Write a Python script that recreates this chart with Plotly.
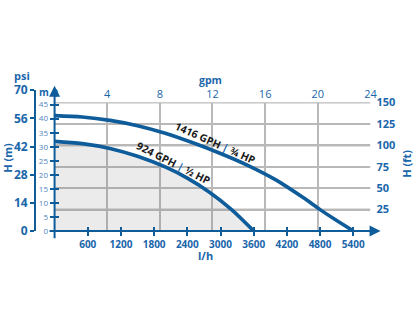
import numpy as np
import plotly.graph_objects as go

# Pump performance: flow (l/h) vs head (m)
flow_1416 = [0, 500, 1000, 1500, 2000, 2500, 3000, 3500, 4000, 4500, 4800, 5100, 5400]
head_1416 = [41.1, 40.6, 39.4, 37.5, 34.8, 31.4, 27.6, 23.3, 18.2, 11.8, 7.6, 3.7, 0]

flow_924 = [0, 500, 1000, 1500, 2000, 2400, 2800, 3200, 3600]
head_924 = [31.9, 31.1, 29.4, 26.6, 22.8, 18.8, 13.8, 7.6, 0]

label_1416 = "1416 GPH"
power_1416 = "¾ HP"
label_924 = "924 GPH"
power_924 = "½ HP"

# Axis ticks
lph_ticks = [600, 1200, 1800, 2400, 3000, 3600, 4200, 4800, 5400]
gpm_ticks = [4, 8, 12, 16, 20, 24]
m_ticks = [0, 5, 10, 15, 20, 25, 30, 35, 40, 45]
psi_ticks = [0, 14, 28, 42, 56, 70]
ft_ticks = [25, 50, 75, 100, 125, 150]

FT_TO_M = 0.3048
LPH_MAX = 5710
GPM_MAX = 24
FT_MAX = 150
M_MAX = FT_MAX * FT_TO_M
PSI_MAX = 70
SHADE_CAP_M = 100 * FT_TO_M  # shaded zone stops at the 100 ft line

W, H = 420, 330
BLUE = "#0f5c9b"
TXT = "#1a66ab"
GRID = "#b9b9b9"
FONT = "Open Sans"

# plot box in pixels
PX_L, PX_R, PX_B, PX_T = 55.5, 376.7, 234.0, 98.7
PSI_TOP = 85.7
PSI_X = 35.7
GPM_LABEL_Y = 96

xdom = [PX_L / W, PX_R / W]
ydom = [(H - PX_B) / H, (H - PX_T) / H]
psidom = [(H - PX_B) / H, (H - PSI_TOP) / H]

fig = go.Figure()

# horizontal grid at every ft tick, on the metre axis, drawn before the curves
grid_x, grid_y = [], []
for v in ft_ticks:
    grid_x += [0, LPH_MAX, None]
    grid_y += [v * FT_TO_M, v * FT_TO_M, None]
fig.add_trace(go.Scatter(x=grid_x, y=grid_y, mode="lines", line=dict(color=GRID, width=1.5),
                         hoverinfo="skip", showlegend=False, xaxis="x", yaxis="y4",
                         cliponaxis=False, connectgaps=False))

# curves live on the metre axis (y4), which overlays the feet axis (y)
shade = np.minimum(np.array(head_924, dtype=float), SHADE_CAP_M)
fig.add_trace(go.Scatter(x=flow_924, y=shade, mode="lines", line=dict(width=0, shape="spline", smoothing=0.8),
                         fill="tozeroy", fillcolor="rgba(120,120,120,0.15)", hoverinfo="skip",
                         showlegend=False, xaxis="x", yaxis="y4"))
for fl, hd in ((flow_1416, head_1416), (flow_924, head_924)):
    fig.add_trace(go.Scatter(x=fl, y=hd, mode="lines",
                             line=dict(color=BLUE, width=3.6, shape="spline", smoothing=0.8),
                             showlegend=False, xaxis="x", yaxis="y4", cliponaxis=False))

# transparent carriers so every secondary axis gets drawn
for xa, ya in (("x", "y"), ("x4", "y3"), ("x", "y5"), ("x2", "y"), ("x3", "y")):
    fig.add_trace(go.Scatter(x=flow_924, y=head_924, mode="lines", line=dict(width=0),
                             opacity=0, hoverinfo="skip", showlegend=False, xaxis=xa, yaxis=ya))

# same grid again as layout lines on the feet axis
for v in ft_ticks:
    fig.add_shape(type="line", xref="x", x0=0, x1=LPH_MAX, yref="y", y0=v, y1=v,
                  line=dict(color=GRID, width=1.5), layer="below")

bold = lambda s, c=TXT: dict(family=FONT, size=s, color=c, weight=700)

fig.update_layout(
    width=W, height=H, margin=dict(l=0, r=0, t=0, b=0),
    paper_bgcolor="white", plot_bgcolor="rgba(0,0,0,0)", showlegend=False,
    font=dict(family=FONT, color=TXT),
    xaxis=dict(domain=xdom, range=[0, LPH_MAX], tickvals=lph_ticks, ticks="outside", ticklen=4,
               tickwidth=2, tickcolor=BLUE, showgrid=False, zeroline=False, showline=False,
               tickfont=bold(10), anchor="y"),
    xaxis3=dict(overlaying="x", range=[0, LPH_MAX], tickvals=lph_ticks, ticks="inside", ticklen=4,
                tickwidth=2, tickcolor=BLUE, showticklabels=False, showgrid=False, zeroline=False,
                anchor="y"),
    xaxis2=dict(overlaying="x", side="top", anchor="free", position=(H - GPM_LABEL_Y) / H,
                range=[0, GPM_MAX], tickvals=gpm_ticks,
                ticks="", showgrid=True, gridcolor=GRID, gridwidth=1.5, zeroline=False,
                showline=False, tickfont=dict(family=FONT, size=11, color=TXT)),
    # hidden companion for the psi scale, kept clear of the main plot box
    xaxis4=dict(domain=[0, 0.03], anchor="y3", visible=False, range=[0, 1]),
    # feet axis: right-hand labels and grid
    yaxis=dict(domain=ydom, side="right", anchor="x", range=[0, FT_MAX], tickvals=ft_ticks,
               ticks="", showgrid=True, gridcolor=GRID, gridwidth=1.5, zeroline=False,
               showline=False, tickfont=bold(11), ticklabelstandoff=5),
    # metre axis: left labels with outward ticks
    yaxis4=dict(overlaying="y", side="left", anchor="x", range=[0, M_MAX], tickvals=m_ticks,
                ticks="outside", ticklen=4, tickwidth=2, tickcolor=BLUE, showgrid=False,
                zeroline=False, showline=False,
                tickfont=dict(family=FONT, size=8, color="#4f84bb")),
    yaxis5=dict(overlaying="y", side="left", anchor="x", range=[0, M_MAX], tickvals=m_ticks,
                ticks="inside", ticklen=4, tickwidth=2, tickcolor=BLUE, showticklabels=False,
                showgrid=False, zeroline=False),
    yaxis3=dict(domain=psidom, anchor="free", position=PSI_X / W, side="left", range=[0, PSI_MAX],
                tickvals=psi_ticks, ticks="outside", ticklen=4, tickwidth=2, tickcolor=BLUE,
                showline=True, linecolor=BLUE, linewidth=2, showgrid=False, zeroline=False,
                tickfont=bold(12)),
)

def ptext(txt, px, py, size=11, weight=700, angle=0, color=TXT):
    fig.add_annotation(text=txt, x=px / W, y=(H - py) / H, xref="paper", yref="paper",
                       showarrow=False, textangle=angle, xanchor="center", yanchor="middle",
                       font=dict(family=FONT, size=size, color=color, weight=weight))

ptext("psi", 22, 70)
ptext("H (m)", 8, 157, angle=-90)
ptext("m", 45, 88, size=10)
ptext("gpm", 214, 75, size=10.5)
ptext("l/h", 209, 260)
ptext("H (ft)", 413, 163, angle=-90)
# gpm origin label sits above the head-axis arrow
fig.add_annotation(text="0", x=0, xref="x2", y=(H - 78) / H, yref="paper", showarrow=False,
                   font=dict(family=FONT, size=11, color=TXT))

# axis arrows
fig.add_annotation(x=PX_L / W, y=(H - 81) / H, xref="paper", yref="paper", text="",
                   showarrow=True, ax=0, ay=PX_B - 81 + 1, arrowhead=2, arrowsize=1.1,
                   arrowwidth=2, arrowcolor=BLUE, standoff=0)
fig.add_annotation(x=387 / W, y=(H - PX_B) / H, xref="paper", yref="paper", text="",
                   showarrow=True, ax=-(387 - PX_L + 1), ay=0, arrowhead=2, arrowsize=1.1,
                   arrowwidth=2, arrowcolor=BLUE, standoff=0)

# curve labels
bar = "<span style='color:%s'>|</span>" % TXT
fig.add_annotation(text=f"{label_1416} {bar} {power_1416}", x=2907, y=31.4, xref="x", yref="y4",
                   showarrow=False, textangle=24, font=dict(family=FONT, size=10.5, color="#1b1b1b", weight=700))
fig.add_annotation(text=f"{label_924} {bar} {power_924}", x=2150, y=24.2, xref="x", yref="y4",
                   showarrow=False, textangle=27, font=dict(family=FONT, size=10.5, color="#1b1b1b", weight=700))

fig.write_html("out.html")
